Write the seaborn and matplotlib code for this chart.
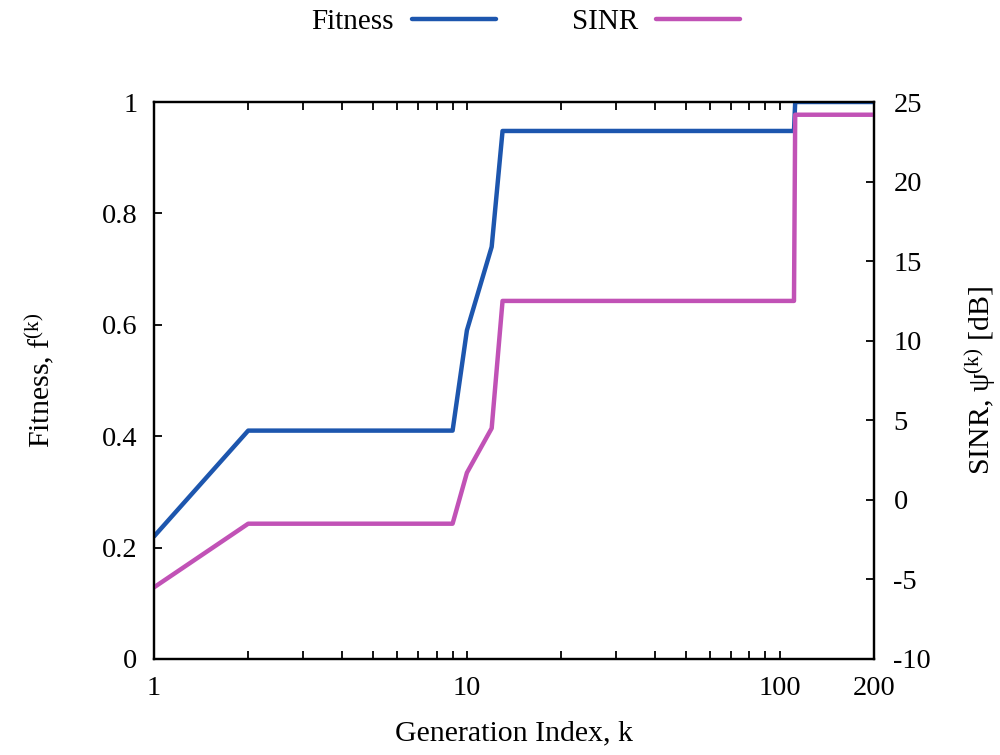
import matplotlib
matplotlib.use("Agg")
import matplotlib.pyplot as plt
import matplotlib.ticker as mticker
import seaborn as sns
import pandas as pd

# Generation indices where the best-so-far values change
generation = [1, 2, 9, 10, 12, 13, 111, 112, 200]
fitness = [0.22, 0.41, 0.41, 0.59, 0.74, 0.948, 0.948, 1.0, 1.0]
sinr_db = [-5.5, -1.5, -1.5, 1.7, 4.5, 12.5, 12.5, 24.2, 24.2]

x_ticks = [1, 10, 100, 200]
fit_ticks = [0, 0.2, 0.4, 0.6, 0.8, 1]
sinr_ticks = [-10, -5, 0, 5, 10, 15, 20, 25]

blue = "#1d56ae"
magenta = "#c152b6"

sns.set_style("ticks")
plt.rcParams["font.family"] = ["Liberation Serif", "DejaVu Serif"]
plt.rcParams["mathtext.fontset"] = "custom"
plt.rcParams["mathtext.rm"] = "Liberation Serif"
plt.rcParams["mathtext.default"] = "rm"
plt.rcParams["axes.unicode_minus"] = False
for key in ("text.color", "axes.labelcolor", "xtick.color", "ytick.color",
            "axes.edgecolor"):
    plt.rcParams[key] = "black"

df = pd.DataFrame({"k": generation, "fitness": fitness, "sinr": sinr_db})

fig = plt.figure(figsize=(10, 7.55), dpi=100)
ax = fig.add_axes([0.154, 0.1272, 0.720, 0.7377])
ax2 = ax.twinx()

sns.lineplot(data=df, x="k", y="fitness", ax=ax, color=blue, lw=3.2,
             label="Fitness", legend=False, estimator=None, sort=False)
sns.lineplot(data=df, x="k", y="sinr", ax=ax2, color=magenta, lw=3.2,
             label="SINR", legend=False, estimator=None, sort=False)

fs = 20.5
lfs = 21.5
ax.set_xscale("log")
ax.set_xlim(1, 200)
ax.set_ylim(0, 1)
ax2.set_ylim(-10, 25)
ax.set_xticks(x_ticks)
ax.xaxis.set_major_formatter(mticker.FuncFormatter(lambda v, p: f"{v:g}"))
ax.xaxis.set_minor_locator(mticker.FixedLocator([2, 3, 4, 5, 6, 7, 8, 9,
                                                 20, 30, 40, 50, 60, 70, 80, 90]))
ax.xaxis.set_minor_formatter(mticker.NullFormatter())
ax.set_yticks(fit_ticks)
ax.yaxis.set_major_formatter(mticker.FuncFormatter(lambda v, p: f"{v:g}"))
ax2.set_yticks(sinr_ticks)

for a in (ax, ax2):
    for s in a.spines.values():
        s.set_linewidth(1.6)
        s.set_color("black")
        s.set_visible(True)

ax.tick_params(axis="x", which="both", direction="in", top=True, length=6,
               width=1.3, labelsize=fs, pad=12, colors="black")
ax.tick_params(axis="y", which="both", direction="in", right=False, length=6,
               width=1.3, labelsize=fs, pad=12, colors="black")
ax2.tick_params(axis="y", direction="in", length=6, width=1.3,
                labelsize=fs, pad=14, colors="black")

ax.set_xlabel("Generation Index, k", fontsize=lfs)
ax.xaxis.set_label_coords(0.5, -0.111)
ax.set_ylabel("Fitness, f$^{(k)}$", fontsize=lfs, labelpad=33)
ax2.set_ylabel("SINR, ψ$^{(k)}$ [dB]", fontsize=lfs, labelpad=23)

handles = ax.get_lines()[:1] + ax2.get_lines()[:1]
fig.legend(handles, ["Fitness", "SINR"], loc="center",
           bbox_to_anchor=(0.526, 1 - 22 / 755), ncol=2, frameon=False,
           markerfirst=False, fontsize=21, handlelength=2.9,
           handletextpad=0.6, columnspacing=2.6)

fig.savefig("out.png", dpi=100, facecolor="white")
